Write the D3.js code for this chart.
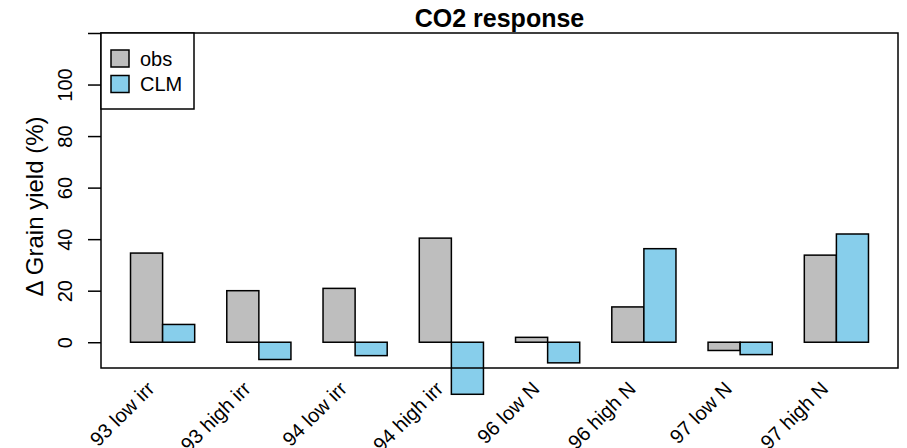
<!DOCTYPE html>
<html>
<head>
<meta charset="utf-8">
<script src="https://cdn.jsdelivr.net/npm/d3@7"></script>
<style>
  body { margin: 0; background: #fff; }
  svg text { font-family: "Liberation Sans", Arial, sans-serif; fill: #000; }
</style>
</head>
<body>
<svg id="chart" width="907" height="448"></svg>
<script>
// data
const treatments = ["93 low irr", "93 high irr", "94 low irr", "94 high irr",
                    "96 low N", "96 high N", "97 low N", "97 high N"];
const seriesNames = ["obs", "CLM"];
const obsValues = [34.6, 20.0, 20.9, 40.4, 1.9, 13.7, -3.2, 33.8];
const clmValues = [6.9, -6.7, -5.2, -20.2, -8.0, 36.3, -4.8, 42.0];
const yTicks = [0, 20, 40, 60, 80, 100, 120];
const yTickLabels = ["0", "20", "40", "60", "80", "100", ""];
const colors = ["#bebebe", "#87ceeb"];

const plotLeft = 101, plotRight = 898, plotTop = 33, plotBottom = 368;
const svg = d3.select("#chart");

// group scale: 2 bars + 1 gap per group, 4% extension at ends like R
const x0 = d3.scaleBand()
  .domain(treatments)
  .range([plotLeft, plotRight])
  .paddingInner(1 / 3)
  .paddingOuter(0.92 / 3);

const x1 = d3.scaleBand()
  .domain(seriesNames)
  .range([0, x0.bandwidth()])
  .padding(0);

const y = d3.scaleLinear()
  .domain([-10, 120])
  .range([plotBottom, plotTop]);

const rows = treatments.map((t, i) => ({ t, obs: obsValues[i], CLM: clmValues[i] }));

// bars
const groups = svg.append("g").selectAll("g")
  .data(rows)
  .enter()
  .append("g")
  .attr("transform", d => "translate(" + x0(d.t) + ",0)");

groups.selectAll("rect")
  .data(d => seriesNames.map((s, j) => ({ s, v: d[s], c: colors[j] })))
  .enter()
  .append("rect")
  .attr("x", d => x1(d.s))
  .attr("y", d => y(Math.max(0, d.v)))
  .attr("width", x1.bandwidth())
  .attr("height", d => Math.abs(y(d.v) - y(0)))
  .attr("fill", d => d.c)
  .attr("stroke", "#000")
  .attr("stroke-width", 1.5);

// plot box
svg.append("rect")
  .attr("x", plotLeft).attr("y", plotTop)
  .attr("width", plotRight - plotLeft).attr("height", plotBottom - plotTop)
  .attr("fill", "none")
  .attr("stroke", "#000")
  .attr("stroke-width", 1.5);

// y axis
const yAxis = svg.append("g")
  .attr("transform", "translate(" + plotLeft + ",0)")
  .call(d3.axisLeft(y).tickValues(yTicks).tickSize(13).tickPadding(0)
    .tickFormat((d, i) => yTickLabels[i]));
yAxis.attr("font-family", null).attr("font-size", null);
yAxis.select(".domain").remove();
yAxis.selectAll(".tick line").attr("stroke", "#000").attr("stroke-width", 1.5);
yAxis.selectAll(".tick text")
  .attr("x", null).attr("dy", null)
  .attr("text-anchor", "middle")
  .attr("transform", "translate(-29,0) rotate(-90)")
  .style("font-size", "20px");

// x labels, rotated
svg.append("g").selectAll("text")
  .data(treatments)
  .enter()
  .append("text")
  .attr("transform", d => "translate(" + (x0(d) + x0.bandwidth() / 2 - 7) + ",390) rotate(-45)")
  .attr("text-anchor", "end")
  .style("font-size", "20px")
  .text(d => d);

// title
svg.append("text")
  .attr("x", (plotLeft + plotRight) / 2)
  .attr("y", 27)
  .attr("text-anchor", "middle")
  .style("font-size", "25px")
  .style("font-weight", "bold")
  .text("CO2 response");

// y label
svg.append("text")
  .attr("transform", "translate(43," + ((plotTop + plotBottom) / 2 + 6) + ") rotate(-90)")
  .attr("text-anchor", "middle")
  .style("font-size", "24px")
  .text("\u0394 Grain yield (%)");

// legend
const legend = svg.append("g");
legend.append("rect")
  .attr("x", plotLeft).attr("y", plotTop)
  .attr("width", 93).attr("height", 76)
  .attr("fill", "#fff")
  .attr("stroke", "#000")
  .attr("stroke-width", 1.5);
seriesNames.forEach((s, i) => {
  legend.append("rect")
    .attr("x", 111).attr("y", 50 + i * 25.5)
    .attr("width", 18).attr("height", 17)
    .attr("fill", colors[i])
    .attr("stroke", "#000")
    .attr("stroke-width", 1.5);
  legend.append("text")
    .attr("x", 140).attr("y", 58.5 + i * 25.5)
    .attr("dominant-baseline", "central")
    .style("font-size", "20px")
    .text(s);
});
</script>
</body>
</html>
